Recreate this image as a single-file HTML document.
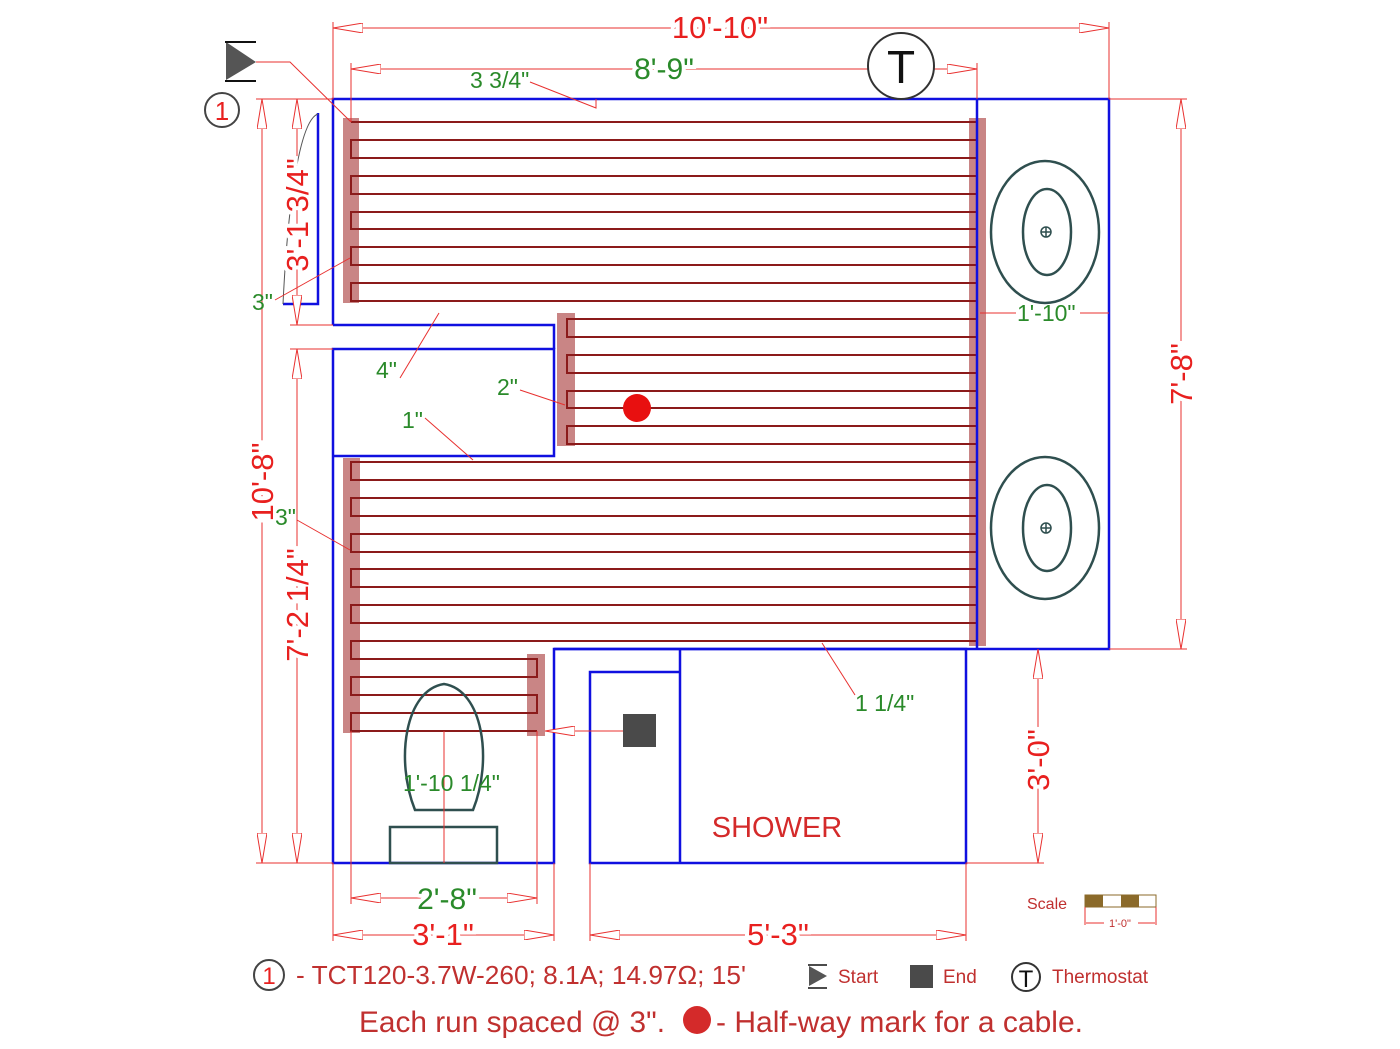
<!DOCTYPE html>
<html><head><meta charset="utf-8"><style>
html,body{margin:0;padding:0;background:#fff;}
svg{display:block;font-family:"Liberation Sans",sans-serif;}
</style></head><body>
<svg width="1400" height="1049" viewBox="0 0 1400 1049" xmlns="http://www.w3.org/2000/svg">
<defs>
<marker id="a" viewBox="-30 0 30 10" refX="0" refY="5" markerUnits="userSpaceOnUse" markerWidth="30" markerHeight="10" orient="auto-start-reverse">
<path d="M0,5 L-30,0 L-30,10 Z" fill="#fff" stroke="#e8302f" stroke-width="1"/>
</marker>
</defs>
<rect width="1400" height="1049" fill="#fff"/>

<g fill="#c98585">
<rect x="343" y="118" width="16" height="185"/>
<rect x="557" y="313" width="18" height="133"/>
<rect x="343" y="458" width="17" height="275"/>
<rect x="969" y="118" width="17" height="528"/>
<rect x="527" y="654" width="18" height="82"/>
</g>

<path d="M351 122 H977 V140 H351 V158 H977 V176 H351 V194 H977 V212 H351 V229 H977 V247 H351 V265 H977 V283 H351 V301 H977 V319 H567 V337 H977 V355 H567 V373 H977 V391 H567 V408 H977 V426 H567 V444 H977 V462 H351 V480 H977 V498 H351 V516 H977 V534 H351 V552 H977 V569 H351 V587 H977 V605 H351 V623 H977 V641 H351 V659 H537 V677 H351 V695 H537 V713 H351 V731 H537" fill="none" stroke="#8b1a1a" stroke-width="2"/>

<g fill="none" stroke="#1010e0" stroke-width="2.5">
<path d="M333,325 V99 H1109 V649 H554 V863 H333 V349 H554 V456 H333"/>
<path d="M333,325 H554 V349"/>
<path d="M977,99 V649"/>
<path d="M554,649 H966 V863 H590 V672 H680 M680,649 V863"/>
<path d="M283,304 H318 V113"/>
</g>
<path d="M318,114 C300,120 288,200 283,304" fill="none" stroke="#555" stroke-width="1"/>

<g fill="none" stroke="#2f4f4f" stroke-width="2.5">
<ellipse cx="1045" cy="232" rx="54" ry="71"/><ellipse cx="1047" cy="232" rx="24" ry="43"/>
<ellipse cx="1045" cy="528" rx="54" ry="71"/><ellipse cx="1047" cy="528" rx="24" ry="43"/>
<path d="M415,810 C395,760 405,690 444,684 C483,690 493,760 473,810 Z"/>
<rect x="390" y="827" width="107" height="36"/>
</g>
<g stroke="#2f4f4f" stroke-width="1.5" fill="none">
<circle cx="1046" cy="232" r="5"/><path d="M1041,232H1051M1046,227V237"/>
<circle cx="1046" cy="528" r="5"/><path d="M1041,528H1051M1046,523V533"/>
</g>

<g stroke="#e8302f" stroke-width="1" fill="none">
<line x1="333" y1="28" x2="1109" y2="28" marker-start="url(#a)" marker-end="url(#a)"/>
<path d="M333,22V99 M1109,22V99"/>
<line x1="351" y1="69" x2="977" y2="69" marker-start="url(#a)" marker-end="url(#a)"/>
<path d="M351,63V122 M977,63V99"/>
<line x1="1181" y1="99" x2="1181" y2="649" marker-start="url(#a)" marker-end="url(#a)"/>
<path d="M1109,99H1187 M1109,649H1187"/>
<line x1="1038" y1="649" x2="1038" y2="863" marker-start="url(#a)" marker-end="url(#a)"/>
<path d="M966,863H1044"/>
<line x1="262" y1="99" x2="262" y2="863" marker-start="url(#a)" marker-end="url(#a)"/>
<path d="M256,99H333 M256,863H333"/>
<line x1="297" y1="99" x2="297" y2="325" marker-start="url(#a)" marker-end="url(#a)"/>
<path d="M290,325H333 M290,349H333"/>
<line x1="297" y1="349" x2="297" y2="863" marker-start="url(#a)" marker-end="url(#a)"/>
<line x1="351" y1="898" x2="537" y2="898" marker-start="url(#a)" marker-end="url(#a)"/>
<path d="M351,731V904 M537,731V904 M444,731V863"/>
<line x1="333" y1="935" x2="554" y2="935" marker-start="url(#a)" marker-end="url(#a)"/>
<path d="M333,863V941 M554,863V941"/>
<line x1="590" y1="935" x2="966" y2="935" marker-start="url(#a)" marker-end="url(#a)"/>
<path d="M590,863V941 M966,863V941"/>
<line x1="545" y1="731" x2="624" y2="731" marker-start="url(#a)"/>
<path d="M256,62 H290 L351,122"/>
<path d="M530,82 L596,108 V99"/>
<path d="M275,300 L350,258"/>
<path d="M400,378 L439,313"/>
<path d="M520,390 L565,405"/>
<path d="M425,418 L473,460"/>
<path d="M980,313 H1016 M1080,313 H1109"/>
<path d="M297,520 L350,550"/>
<path d="M855,695 L822,643"/>
</g>

<circle cx="901" cy="66" r="33" fill="#fff" stroke="#333" stroke-width="2"/>
<text x="901" y="83" font-size="46" text-anchor="middle" fill="#111">T</text>

<path d="M226,42 L256,62 L226,80 Z" fill="#555"/>
<path d="M225,42H256 M225,81H256" stroke="#111" stroke-width="2"/>
<circle cx="222" cy="110" r="17" fill="none" stroke="#444" stroke-width="2"/>
<text x="222" y="120" font-size="26" text-anchor="middle" fill="#e8201f">1</text>

<circle cx="637" cy="408" r="14" fill="#e81010"/>
<rect x="623" y="714" width="33" height="33" fill="#4a4a4a"/>

<g fill="#e8201f" font-size="31" text-anchor="middle">
<text x="720" y="38" style="paint-order:stroke" stroke="#fff" stroke-width="8">10'-10"</text>
<text x="443" y="945" style="paint-order:stroke" stroke="#fff" stroke-width="8">3'-1"</text>
<text x="778" y="945" style="paint-order:stroke" stroke="#fff" stroke-width="8">5'-3"</text>
<text transform="translate(1192,374) rotate(-90)" style="paint-order:stroke" stroke="#fff" stroke-width="8">7'-8"</text>
<text transform="translate(1049,760) rotate(-90)" style="paint-order:stroke" stroke="#fff" stroke-width="8">3'-0"</text>
<text transform="translate(273,482) rotate(-90)" style="paint-order:stroke" stroke="#fff" stroke-width="8">10'-8"</text>
<text transform="translate(308,215) rotate(-90)" style="paint-order:stroke" stroke="#fff" stroke-width="8">3'-1 3/4"</text>
<text transform="translate(308,605) rotate(-90)" style="paint-order:stroke" stroke="#fff" stroke-width="8">7'-2 1/4"</text>
</g>
<text x="777" y="837" font-size="29" text-anchor="middle" fill="#d42a2a">SHOWER</text>

<g fill="#2a8a2a" font-size="23">
<text x="664" y="79" font-size="30" text-anchor="middle" style="paint-order:stroke" stroke="#fff" stroke-width="8">8'-9"</text>
<text x="447" y="909" font-size="30" text-anchor="middle" style="paint-order:stroke" stroke="#fff" stroke-width="8">2'-8"</text>
<text x="470" y="88">3 3/4"</text>
<text x="252" y="310">3"</text>
<text x="376" y="378">4"</text>
<text x="497" y="395">2"</text>
<text x="402" y="428">1"</text>
<text x="1017" y="321">1'-10"</text>
<text x="275" y="525">3"</text>
<text x="855" y="711">1 1/4"</text>
<text x="403" y="791">1'-10 1/4"</text>
</g>

<text x="1027" y="909" font-size="16" fill="#c0302f">Scale</text>
<rect x="1085" y="895" width="71" height="12" fill="#fff" stroke="#8b6a2a" stroke-width="1"/>
<rect x="1085" y="895" width="18" height="12" fill="#8b6a2a"/>
<rect x="1121" y="895" width="18" height="12" fill="#8b6a2a"/>
<path d="M1085,907V925 M1156,907V925 M1086,923H1104 M1138,923H1155" stroke="#e8302f" stroke-width="1"/>
<text x="1120" y="927" font-size="11" text-anchor="middle" fill="#c0302f">1'-0"</text>

<circle cx="269" cy="975" r="15" fill="none" stroke="#444" stroke-width="2"/>
<text x="269" y="984" font-size="24" text-anchor="middle" fill="#e8201f">1</text>
<text x="296" y="984" font-size="26" fill="#c0302f" textLength="450" lengthAdjust="spacingAndGlyphs">- TCT120-3.7W-260; 8.1A; 14.97Ω; 15'</text>
<path d="M809,966 L827,976 L809,986 Z" fill="#555"/>
<path d="M808,965H827 M808,988H827" stroke="#111" stroke-width="1.5"/>
<text x="838" y="983" font-size="19" fill="#c0302f">Start</text>
<rect x="910" y="965" width="23" height="23" fill="#4a4a4a"/>
<text x="943" y="983" font-size="19" fill="#c0302f">End</text>
<circle cx="1026" cy="977" r="14" fill="none" stroke="#333" stroke-width="2"/>
<text x="1026" y="987" font-size="24" text-anchor="middle" fill="#111">T</text>
<text x="1052" y="983" font-size="19" fill="#c0302f">Thermostat</text>
<text x="359" y="1032" font-size="30" fill="#c0302f" textLength="306" lengthAdjust="spacingAndGlyphs">Each run spaced @ 3".</text>
<circle cx="697" cy="1020" r="14" fill="#d42a2a"/>
<text x="716" y="1032" font-size="30" fill="#c0302f" textLength="367" lengthAdjust="spacingAndGlyphs">- Half-way mark for a cable.</text>
</svg>
</body></html>
